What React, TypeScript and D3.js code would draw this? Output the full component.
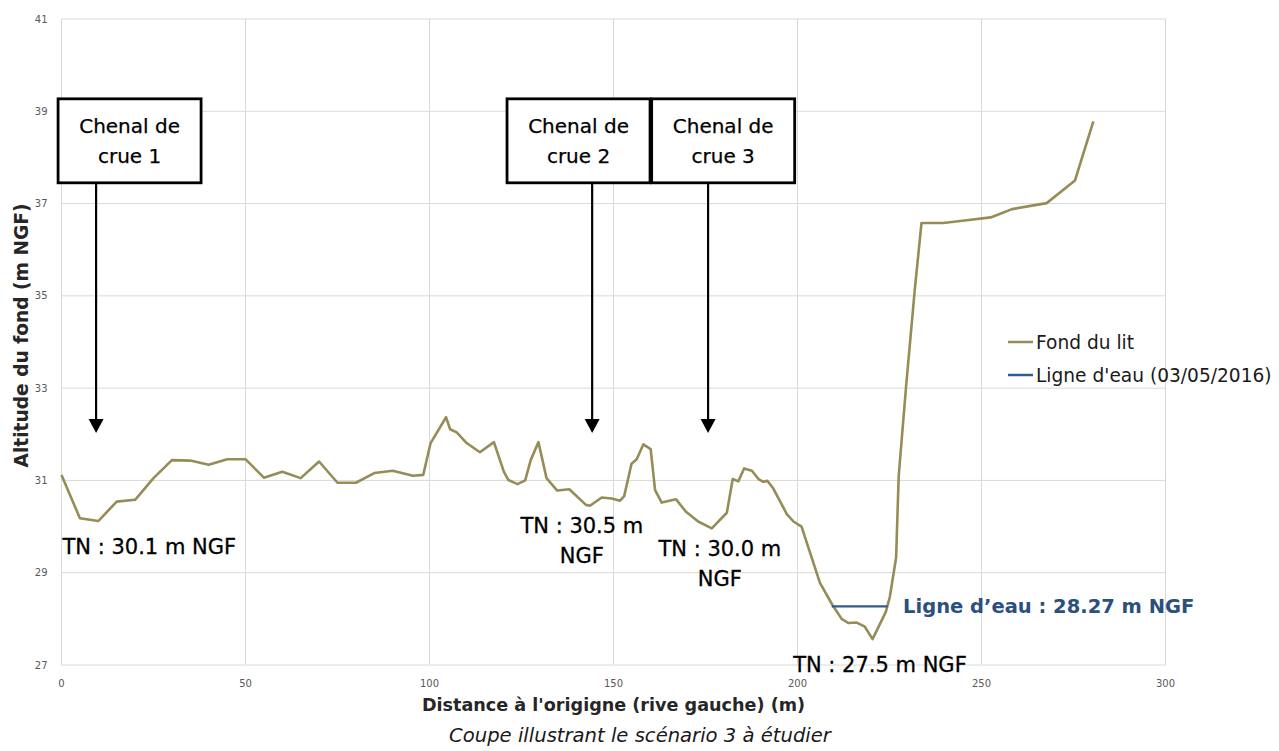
import React from "react";
import * as d3 from "d3";

// Fond du lit (bed profile)
const distance = [
  0, 5, 10, 15, 20, 25, 30, 35, 40, 45, 50, 55, 60, 65, 70, 75, 80, 85, 90, 95.5, 98.3,
  100.3, 104.5, 105.6, 107.4, 110.1, 113.7, 117.5, 120.2, 121.4, 123.9, 126, 127.5, 129.6,
  131.8, 134.7, 138, 142.5, 143.6, 146.8, 149.5, 151.8, 152.9, 154.9, 156.3, 158.1, 160.1,
  161.3, 163.1, 167, 169.7, 173, 176.7, 180.8, 182.4, 183.9, 185.5, 187.6, 189.4, 190.7,
  191.8, 193.4, 197.1, 198.9, 201.1, 206.1, 209.5, 212, 213.8, 216.1, 218.3, 220.4, 224,
  225.1, 226.8, 227.5, 229.5, 231.9, 233.7, 239.6, 246, 252.5, 258.3, 267.7, 275.4, 280.4,
];
const altitude = [
  31.12, 30.18, 30.12, 30.54, 30.58, 31.05, 31.44, 31.43, 31.34, 31.46, 31.46, 31.06, 31.19,
  31.05, 31.41, 30.95, 30.95, 31.16, 31.21, 31.1, 31.12,
  31.81, 32.37, 32.11, 32.04, 31.81, 31.61, 31.83, 31.19, 31.01, 30.92, 31.0, 31.44, 31.83,
  31.05, 30.78, 30.81, 30.47, 30.45, 30.63, 30.61, 30.56, 30.66, 31.36, 31.46, 31.78, 31.68,
  30.79, 30.52, 30.59, 30.32, 30.11, 29.96, 30.3, 31.03, 30.98, 31.26, 31.21, 31.03, 30.97,
  30.99, 30.83, 30.27, 30.11, 30.0, 28.78, 28.3, 28.0, 27.91, 27.92, 27.83, 27.56, 28.15,
  28.48, 29.33, 31.1, 33.03, 35.16, 36.58, 36.58, 36.64, 36.7, 36.88, 37.01, 37.5, 38.78,
];

// Ligne d'eau (03/05/2016)
const waterDistance = [209.3, 224.5];
const waterLevel = [28.27, 28.27];

const xTicks = [0, 50, 100, 150, 200, 250, 300];
const yTicks = [27, 29, 31, 33, 35, 37, 39, 41];

const seriesNames = ["Fond du lit", "Ligne d'eau (03/05/2016)"];

// Annotations (data coordinates)
const channelLabels = ["Chenal de|crue 1", "Chenal de|crue 2", "Chenal de|crue 3"];
const channelBoxCenter = [18.5, 140.5, 179.8];
const channelArrowX = [9.4, 144.2, 175.7];
const channelBoxTop = 39.27;
const channelBoxBottom = 37.45;
const channelArrowTip = 32.03;

const tnLabels = ["TN : 30.1 m NGF", "TN : 30.5 m|NGF", "TN : 30.0 m|NGF", "TN : 27.5 m NGF"];
const tnX = [0, 141.4, 178.9, 222.4];
const tnY = [29.41, 29.86, 29.36, 26.85];
const tnAnchor = ["start", "middle", "middle", "middle"];

const waterLabel = "Ligne d\u2019eau : 28.27 m NGF";
const waterLabelX = 228.7;
const waterLabelY = 28.13;

const FONT = "'DejaVu Sans', Verdana, sans-serif";
const BED = "#968c58";
const WATER = "#2f5d93";

export default function App() {
  const W = 1279;
  const H = 751;
  const left = 61.5;
  const right = 1165.5;
  const top = 19;
  const bottom = 665;

  const x = d3.scaleLinear().domain([0, 300]).range([left, right]);
  const y = d3.scaleLinear().domain([27, 41]).range([bottom, top]);

  const bedData = distance.map((d, i) => [d, altitude[i]] as [number, number]);
  const waterData = waterDistance.map((d, i) => [d, waterLevel[i]] as [number, number]);
  const line = d3
    .line<[number, number]>()
    .x((d) => x(d[0]))
    .y((d) => y(d[1]));

  const boxW = 143;
  const lineH = 30;

  return (
    <svg
      width={W}
      height={H}
      style={{ position: "absolute", left: 0, top: 0, background: "#fff" }}
      fontFamily={FONT}
    >
      <rect x={0} y={0} width={W} height={H} fill="#fff" />
      {/* grid */}
      {xTicks.map((t) => (
        <line key={"gx" + t} x1={x(t)} x2={x(t)} y1={top} y2={bottom} stroke="#d9d9d9" strokeWidth={1} />
      ))}
      {yTicks.map((t) => (
        <line key={"gy" + t} x1={left} x2={right} y1={y(t)} y2={y(t)} stroke="#d9d9d9" strokeWidth={1} />
      ))}
      {/* tick labels */}
      {yTicks.map((t) => (
        <text key={"ty" + t} x={left - 14} y={y(t)} dy="0.35em" textAnchor="end" fontSize={10} fill="#595959">
          {t}
        </text>
      ))}
      {xTicks.map((t) => (
        <text key={"tx" + t} x={x(t)} y={bottom + 22} textAnchor="middle" fontSize={10} fill="#595959">
          {t}
        </text>
      ))}
      {/* axis titles */}
      <text x={(left + right) / 2} y={711} textAnchor="middle" fontSize={17.6} fontWeight="bold" fill="#262626">
        Distance à l'origigne (rive gauche) (m)
      </text>
      <text
        transform={`translate(28,${(203 + 468) / 2}) rotate(-90)`}
        textAnchor="middle"
        fontSize={18.6}
        fontWeight="bold"
        fill="#262626"
      >
        Altitude du fond (m NGF)
      </text>
      {/* series */}
      <path d={line(bedData) || ""} fill="none" stroke={BED} strokeWidth={2.6} strokeLinejoin="round" />
      <path d={line(waterData) || ""} fill="none" stroke={WATER} strokeWidth={2.2} />
      {/* legend */}
      {seriesNames.map((n, i) => (
        <g key={n} transform={`translate(1008,${342 + i * 33})`}>
          <line x1={0} x2={25} y1={0} y2={0} stroke={i === 0 ? BED : WATER} strokeWidth={2.5} />
          <text x={28} y={0} dy="0.35em" fontSize={18.6} fill="#1a1a1a">
            {n}
          </text>
        </g>
      ))}
      {/* channel boxes & arrows */}
      {channelLabels.map((lab, i) => {
        const cx = x(channelBoxCenter[i]);
        const y0 = y(channelBoxTop);
        const y1 = y(channelBoxBottom);
        const ax = x(channelArrowX[i]);
        const tip = y(channelArrowTip);
        const parts = lab.split("|");
        return (
          <g key={lab}>
            <line x1={ax} x2={ax} y1={y1} y2={tip - 12} stroke="#000" strokeWidth={2.2} />
            <path d={`M${ax - 7.5},${tip - 14} L${ax + 7.5},${tip - 14} L${ax},${tip} Z`} fill="#000" />
            <rect x={cx - boxW / 2} y={y0} width={boxW} height={y1 - y0} fill="#fff" stroke="#000" strokeWidth={2.8} />
            {parts.map((p, j) => (
              <text key={j} x={cx} y={y0 + 34 + j * lineH} textAnchor="middle" fontSize={20} fill="#000" stroke="#000" strokeWidth={0.25}>
                {p}
              </text>
            ))}
          </g>
        );
      })}
      {/* TN labels */}
      {tnLabels.map((lab, i) => (
        <g key={lab}>
          {lab.split("|").map((p, j) => (
            <text
              key={j}
              x={x(tnX[i]) + (i === 0 ? 1 : 0)}
              y={y(tnY[i]) + j * 30}
              textAnchor={tnAnchor[i] as any}
              fontSize={21}
              fill="#000"
              stroke="#000"
              strokeWidth={0.3}
            >
              {p}
            </text>
          ))}
        </g>
      ))}
      <text x={x(waterLabelX)} y={y(waterLabelY)} fontSize={19.5} fontWeight="bold" fill="#2b4f7e">
        {waterLabel}
      </text>
      {/* caption */}
      <text x={640} y={742} textAnchor="middle" fontSize={19.6} fontStyle="italic" fill="#1a1a1a">
        Coupe illustrant le scénario 3 à étudier
      </text>
    </svg>
  );
}
